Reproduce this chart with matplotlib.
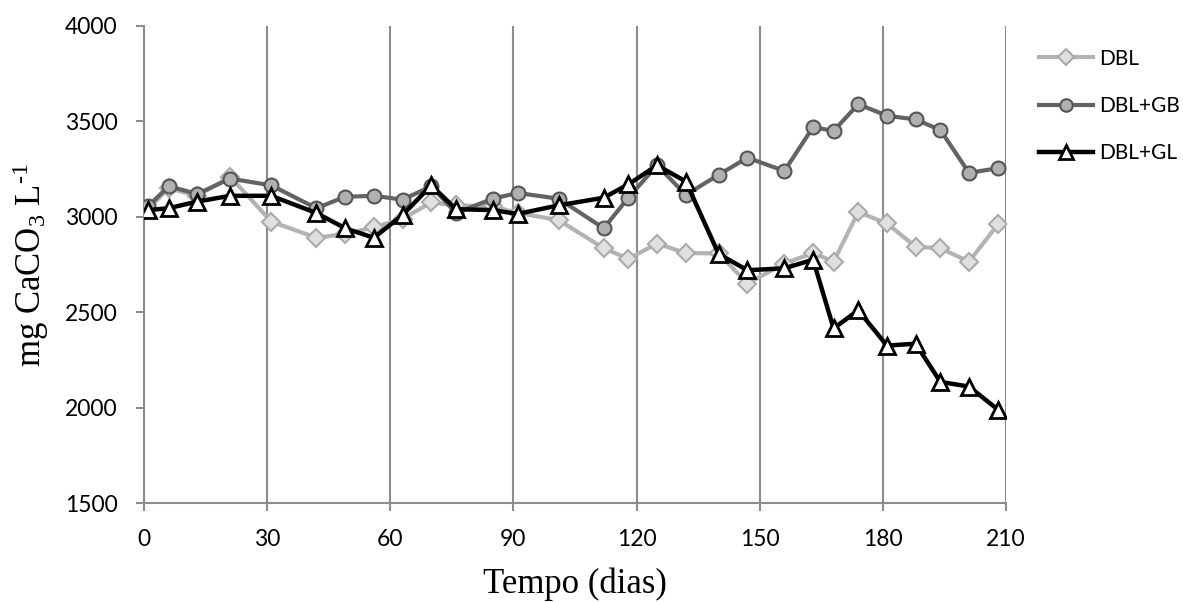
import matplotlib
matplotlib.use("Agg")
import matplotlib.pyplot as plt

plt.rcParams["mathtext.fontset"] = "custom"
plt.rcParams["mathtext.rm"] = "Liberation Serif"
plt.rcParams["mathtext.it"] = "Liberation Serif:italic"

days = [1, 6, 13, 21, 31, 42, 49, 56, 63, 70, 76, 85, 91, 101, 112, 118, 125,
        132, 140, 147, 156, 163, 168, 174, 181, 188, 194, 201, 208]
dbl = [3040, 3150, 3110, 3210, 2975, 2890, 2910, 2945, 2990, 3075, 3060, 3055,
       3020, 2983, 2835, 2780, 2860, 2810, 2808, 2650, 2755, 2810, 2765, 3025,
       2965, 2843, 2835, 2765, 2960]
dbl_gb = [3055, 3160, 3120, 3200, 3165, 3045, 3105, 3110, 3090, 3160, 3020,
          3095, 3125, 3095, 2940, 3100, 3270, 3115, 3220, 3310, 3240, 3470,
          3450, 3590, 3530, 3510, 3455, 3230, 3255]
dbl_gl = [3035, 3045, 3080, 3110, 3110, 3020, 2940, 2890, 3010, 3165, 3040,
          3035, 3015, 3060, 3100, 3170, 3270, 3185, 2805, 2720, 2730, 2775,
          2415, 2510, 2325, 2335, 2135, 2110, 1990]
labels = ["DBL", "DBL+GB", "DBL+GL"]
xticks = [0, 30, 60, 90, 120, 150, 180, 210]
yticks = [1500, 2000, 2500, 3000, 3500, 4000]

fig = plt.figure(figsize=(11.83, 6.02), dpi=100)
ax = fig.add_axes([144 / 1183, 1 - 503 / 602, (1006 - 144) / 1183, (503 - 26) / 602])

ax.plot(days, dbl, color="#b3b3b3", lw=3, marker="D", ms=9,
        mfc="#e0e0e0", mec="#aaaaaa", mew=1.5, label=labels[0], zorder=3)
ax.plot(days, dbl_gb, color="#636363", lw=3, marker="o", ms=10,
        mfc="#b0b0b0", mec="#555555", mew=1.5, label=labels[1], zorder=4)
ax.plot(days, dbl_gl, color="black", lw=3.2, marker="^", ms=11,
        mfc="white", mec="black", mew=2, label=labels[2], zorder=5)

ax.set_xlim(0, 210)
ax.set_ylim(1500, 4000)
ax.set_xticks(xticks)
ax.set_yticks(yticks)
ax.grid(axis="x", color="#8c8c8c", lw=1.5)
ax.set_axisbelow(True)
for s in ["top", "right"]:
    ax.spines[s].set_visible(False)
for s in ["left", "bottom"]:
    ax.spines[s].set_color("#8c8c8c")
    ax.spines[s].set_linewidth(1.5)
ax.tick_params(axis="both", direction="out", length=6, width=1.5, color="#8c8c8c",
               labelsize=16.5)
ax.tick_params(axis="y", pad=13)
ax.tick_params(axis="x", pad=13)
for lab in ax.get_xticklabels() + ax.get_yticklabels():
    lab.set_fontfamily("Lato")

ax.set_xlabel("Tempo (dias)", fontfamily="Liberation Serif", fontsize=25, labelpad=12)
ax.set_ylabel(r"mg CaCO$_3$ L$^{\text{-}1}$", fontfamily="Liberation Serif",
              fontsize=25, labelpad=10)

leg = ax.legend(loc="upper left", bbox_to_anchor=(1020 / 1183, 1 - 30 / 602),
                bbox_transform=fig.transFigure, frameon=False,
                prop={"family": "Lato", "size": 15}, handlelength=2.6,
                labelspacing=1.3, handletextpad=0.3, markerscale=0.9)

fig.savefig("out.png", dpi=100)
